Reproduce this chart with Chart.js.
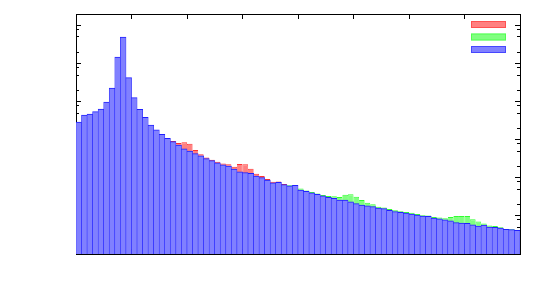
<!DOCTYPE html>
<html>
<head>
<meta charset="utf-8">
<script src="https://cdn.jsdelivr.net/npm/chart.js@4/dist/chart.umd.min.js"></script>
<style>
  body { margin: 0; background: #fff; }
</style>
</head>
<body>
<canvas id="histChart" width="543" height="295"></canvas>
<script>
// 80 bins, log y axis
const bins = [0,1,2,3,4,5,6,7,8,9,10,11,12,13,14,15,16,17,18,19,
  20,21,22,23,24,25,26,27,28,29,30,31,32,33,34,35,36,37,38,39,
  40,41,42,43,44,45,46,47,48,49,50,51,52,53,54,55,56,57,58,59,
  60,61,62,63,64,65,66,67,68,69,70,71,72,73,74,75,76,77,78,79];

const blueCounts = [2900, 4450, 4730, 5430, 6400, 9770, 22750, 148000, 496000, 42400,
  12650, 6280, 3870, 2430, 1800, 1390, 1090, 897, 726, 577,
  499, 429, 378, 321, 281, 248, 219, 202, 168, 144,
  136, 130, 111, 101, 87.5, 74, 76, 66, 61, 63,
  47.8, 43.7, 40.4, 36.9, 33.7, 30.8, 29.0, 26.1, 25.8, 23.2,
  20.9, 19.3, 18.2, 17.6, 15.9, 15.4, 14.0, 12.9, 12.4, 11.8,
  11.2, 10.4, 9.8, 9.7, 8.7, 8.4, 7.9, 7.4, 6.7, 6.5,
  6.4, 5.8, 5.4, 5.7, 5.05, 5.0, 4.75, 4.4, 4.35, 4.14];

const redCounts = [null, null, null, null, null, null, null, null, null, null,
  null, null, null, null, null, null, null, 925, 819, 860,
  781, 537, 414, 341, 297, 265, 237, 226, 196, 230,
  226, 172, 128, 111, 93, 78.5, 80, 68.8, null, null,
  null, null, null, null, null, null, null, null, null, null,
  null, null, null, null, null, null, null, null, null, null,
  null, null, null, null, null, null, null, null, null, null,
  null, null, null, null, null, null, null, null, null, null];

const greenCounts = [null, null, null, null, null, null, null, null, null, null,
  null, null, null, null, null, null, null, null, null, null,
  null, null, null, null, null, null, null, null, null, null,
  null, null, null, null, null, null, null, null, 63.6, 64,
  52.4, 46.4, 42.4, 38.7, 35.4, 33.3, 32.7, 31.3, 36, 36.9,
  31.9, 26.1, 22.2, 20.2, 17.3, 16.6, 15.2, 14.0, 13.3, 12.7,
  12.1, 11.2, 10.4, 10.3, 9.36, 9.08, 8.7, 9.3, 9.94, 9.9,
  9.9, 8.14, 7.13, 6.32, 5.6, 5.43, 5.02, 4.53, 4.45, 4.26];

const xTickEdges = [0, 10, 20, 30, 40, 50, 60, 70, 80];
const yMajorTicks = [1, 10, 100, 1e3, 1e4, 1e5, 1e6];
const yMinorTicks = [2, 5, 8, 20, 50, 80, 200, 500, 800, 2e3, 5e3, 8e3,
  2e4, 5e4, 8e4, 2e5, 5e5, 8e5];
const yMin = 1;
const yMax = 2e6;

const boxLegend = {
  id: "boxLegend",
  afterDatasetsDraw(chart) {
    const { ctx, chartArea } = chart;
    chart.data.datasets.forEach((ds, i) => {
      const x = chartArea.right - 49;
      const y = chartArea.top + 7 + i * 12.5;
      ctx.save();
      ctx.fillStyle = ds.backgroundColor;
      ctx.fillRect(x, y, 35, 7);
      ctx.strokeStyle = ds.borderColor;
      ctx.globalAlpha = 0.6;
      ctx.lineWidth = 1;
      ctx.strokeRect(x + 0.5, y + 0.5, 34, 6);
      ctx.restore();
    });
  }
};

const flat = (scale) => {
  if (scale.isHorizontal()) scale.height = 0; else scale.width = 0;
};

const xEdgeColor = (ctx) => {
  const idx = ctx.index === undefined ? bins.length : ctx.index;
  return xTickEdges.includes(idx) ? "#000" : "rgba(0,0,0,0)";
};

const logAxis = (position, ticks, len, border) => ({
  type: "logarithmic",
  position: position,
  min: yMin,
  max: yMax,
  afterBuildTicks: (scale) => { scale.ticks = ticks.map(v => ({ value: v })); },
  afterFit: flat,
  ticks: { display: false },
  grid: { drawOnChartArea: false, drawTicks: true, tickLength: -len, color: "#000", lineWidth: 1 },
  border: { display: border, color: "#000", width: 1 }
});

const catAxis = (position) => ({
  type: "category",
  position: position,
  labels: bins,
  stacked: true,
  offset: true,
  afterFit: flat,
  ticks: { display: false, autoSkip: false },
  grid: { offset: true, drawOnChartArea: false, drawTicks: true, tickLength: -5, color: xEdgeColor, lineWidth: 1 },
  border: { display: true, color: "#000", width: 1 }
});

const barStyle = { top: 1, left: 0.6, right: 0.6, bottom: 0 };

new Chart(document.getElementById("histChart").getContext("2d"), {
  type: "bar",
  data: {
    labels: bins,
    datasets: [
      { data: redCounts, backgroundColor: "#ff8080", borderColor: "#ff3030", borderWidth: barStyle, inflateAmount: 0, order: 3 },
      { data: greenCounts, backgroundColor: "#80ff80", borderColor: "#30ff30", borderWidth: barStyle, inflateAmount: 0, order: 2 },
      { data: blueCounts, backgroundColor: "#8080ff", borderColor: "#2020ff", borderWidth: barStyle, inflateAmount: 0.4, order: 1 }
    ]
  },
  options: {
    responsive: false,
    animation: false,
    barPercentage: 1,
    categoryPercentage: 1,
    layout: { padding: { left: 76, top: 14, right: 23, bottom: 41 } },
    datasets: { bar: { borderSkipped: "start" } },
    plugins: { legend: { display: false }, tooltip: { enabled: false } },
    scales: {
      x: catAxis("bottom"),
      x2: catAxis("top"),
      y: logAxis("left", yMajorTicks, 5, true),
      yMinor: logAxis("left", yMinorTicks, 3, false),
      y2: logAxis("right", yMajorTicks, 5, true),
      y2Minor: logAxis("right", yMinorTicks, 3, false)
    }
  },
  plugins: [boxLegend]
});
</script>
</body>
</html>
